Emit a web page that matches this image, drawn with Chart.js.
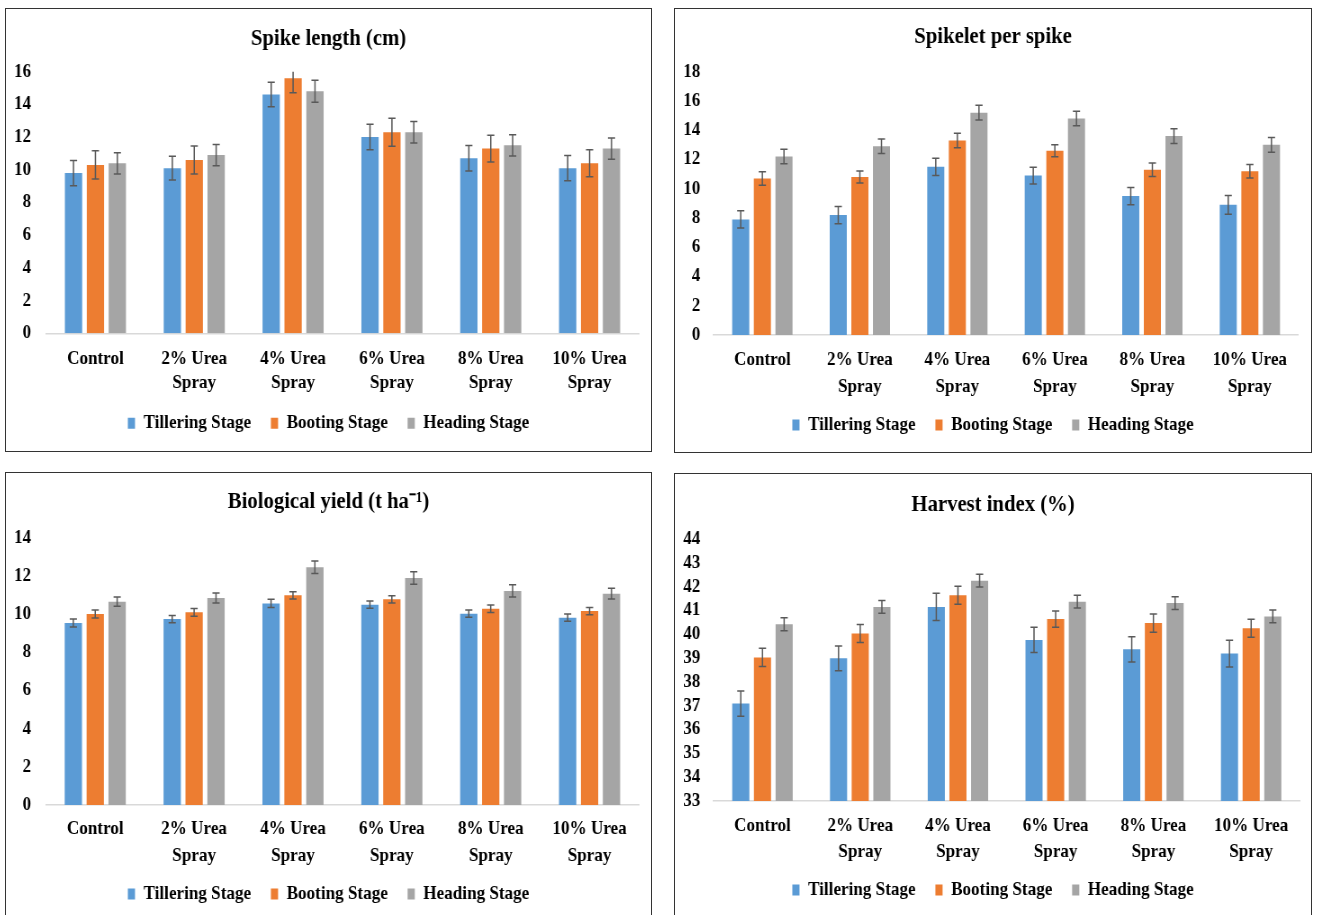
<!DOCTYPE html>
<html>
<head>
<meta charset="utf-8">
<script src="https://cdn.jsdelivr.net/npm/chart.js@4.4.1/dist/chart.umd.min.js"></script>
<style>
html, body { margin: 0; padding: 0; background: #fff; }
body { position: relative; width: 1317px; height: 915px; overflow: hidden; }
.frame { position: absolute; box-sizing: border-box; border: 1.5px solid #333; }
.squeeze { position: absolute; transform-origin: 0 0; }
</style>
</head>
<body>
<script>
const categories = [["Control"], ["2% Urea", "Spray"], ["4% Urea", "Spray"], ["6% Urea", "Spray"], ["8% Urea", "Spray"], ["10% Urea", "Spray"]];
const stages = ["Tillering Stage", "Booting Stage", "Heading Stage"];
const stageColors = ["#5B9BD5", "#ED7D31", "#A5A5A5"];

// Spike length (cm)
const spikeTillering = [9.8, 10.1, 14.6, 12.0, 10.7, 10.1];
const spikeBooting = [10.3, 10.6, 15.6, 12.3, 11.3, 10.4];
const spikeHeading = [10.4, 10.9, 14.8, 12.3, 11.5, 11.3];
const spikeTilleringErr = [0.77, 0.73, 0.75, 0.78, 0.78, 0.77];
const spikeBootingErr = [0.86, 0.86, 0.88, 0.86, 0.82, 0.82];
const spikeHeadingErr = [0.65, 0.65, 0.67, 0.66, 0.65, 0.65];

// Spikelet per spike
const spikeletTillering = [7.9, 8.2, 11.5, 10.9, 9.5, 8.9];
const spikeletBooting = [10.7, 10.8, 13.3, 12.6, 11.3, 11.2];
const spikeletHeading = [12.2, 12.9, 15.2, 14.8, 13.6, 13.0];
const spikeletTilleringErr = [0.59, 0.59, 0.59, 0.57, 0.59, 0.64];
const spikeletBootingErr = [0.46, 0.41, 0.5, 0.41, 0.46, 0.46];
const spikeletHeadingErr = [0.5, 0.5, 0.5, 0.5, 0.5, 0.5];

// Biological yield (t/ha)
const yieldTillering = [9.53, 9.74, 10.56, 10.49, 10.02, 9.81];
const yieldBooting = [10.0, 10.09, 10.98, 10.77, 10.28, 10.16];
const yieldHeading = [10.65, 10.84, 12.45, 11.89, 11.21, 11.07];
const yieldTilleringErr = [0.21, 0.19, 0.21, 0.19, 0.19, 0.19];
const yieldBootingErr = [0.21, 0.2, 0.19, 0.19, 0.2, 0.19];
const yieldHeadingErr = [0.24, 0.26, 0.33, 0.33, 0.32, 0.28];

// Harvest index (%)
const harvestTillering = [37.09, 38.99, 41.15, 39.76, 39.37, 39.19];
const harvestBooting = [39.03, 40.03, 41.64, 40.64, 40.47, 40.25];
const harvestHeading = [40.42, 41.15, 42.25, 41.37, 41.31, 40.75];
const harvestTilleringErr = [0.53, 0.52, 0.57, 0.53, 0.53, 0.56];
const harvestBootingErr = [0.38, 0.38, 0.38, 0.34, 0.38, 0.38];
const harvestHeadingErr = [0.27, 0.27, 0.27, 0.27, 0.27, 0.27];

const FONT = "'Liberation Serif', 'Times New Roman', serif";
const SQUEEZE = 0.9;

// whiskers with caps, clipped to the plot area
const errorBars = {
  id: 'errorBars',
  afterDatasetsDraw(chart) {
    const {ctx, chartArea, scales: {y}} = chart;
    ctx.save();
    ctx.beginPath();
    ctx.rect(chartArea.left, chartArea.top, chartArea.right - chartArea.left, chartArea.bottom - chartArea.top);
    ctx.clip();
    ctx.strokeStyle = '#595959';
    ctx.lineWidth = 1.5;
    chart.data.datasets.forEach((ds, i) => {
      chart.getDatasetMeta(i).data.forEach((bar, j) => {
        const hi = y.getPixelForValue(ds.data[j] + ds.errors[j]);
        const lo = y.getPixelForValue(ds.data[j] - ds.errors[j]);
        ctx.beginPath();
        ctx.moveTo(bar.x, hi); ctx.lineTo(bar.x, lo);
        ctx.moveTo(bar.x - 4, hi); ctx.lineTo(bar.x + 4, hi);
        ctx.moveTo(bar.x - 4, lo); ctx.lineTo(bar.x + 4, lo);
        ctx.stroke();
      });
    });
    ctx.restore();
  }
};

function buildPanel(p) {
  const [left, top, w, h] = p.box;

  const frame = document.createElement('div');
  frame.className = 'frame';
  Object.assign(frame.style, {left: left + 'px', top: top + 'px', width: w + 'px', height: h + 'px'});
  document.body.appendChild(frame);

  const wrap = document.createElement('div');
  wrap.className = 'squeeze';
  Object.assign(wrap.style, {left: left + 'px', top: top + 'px', transform: `scaleX(${SQUEEZE})`});
  const canvas = document.createElement('canvas');
  const W = Math.round(w / SQUEEZE);
  canvas.width = W;
  canvas.height = h;
  wrap.appendChild(canvas);
  document.body.appendChild(wrap);

  const titleSize = 23, titleLH = titleSize * 1.2;
  const legendPad = 22, itemH = 19;
  const legendTop = p.legendY - top - legendPad - itemH / 2;
  const legendH = itemH + legendPad + 10;
  const xAxisH = legendTop - (p.plotBottom - top);
  const chartLeft = (p.plotLeft - left) / SQUEEZE;
  const sidePad = W - (p.plotRight - left) / SQUEEZE;

  new Chart(canvas, {
    type: 'bar',
    data: {
      labels: categories,
      datasets: p.series.map((vals, i) => ({
        label: stages[i],
        data: vals,
        errors: p.errors[i],
        backgroundColor: stageColors[i],
        borderWidth: 0,
        base: p.min
      }))
    },
    options: {
      responsive: false,
      animation: false,
      devicePixelRatio: 1,
      layout: {padding: {top: 0, left: sidePad, right: sidePad, bottom: h - legendTop - legendH}},
      datasets: {bar: {categoryPercentage: 0.665, barPercentage: 0.79}},
      plugins: {
        title: {
          display: true,
          text: p.title,
          color: '#000',
          font: {family: FONT, size: titleSize, weight: 'bold', lineHeight: 1.2},
          padding: {top: p.titleY - top - titleLH / 2, bottom: p.plotTop - p.titleY - titleLH / 2}
        },
        legend: {
          position: 'bottom',
          labels: {boxWidth: 8, boxHeight: 11, padding: legendPad, color: '#000',
                   font: {family: FONT, size: 19, weight: 'bold'}}
        },
        tooltip: {enabled: false}
      },
      scales: {
        x: {
          grid: {display: false, drawTicks: false},
          border: {display: true, color: '#d9d9d9', width: 1.5},
          ticks: {color: '#000', padding: p.labelY - p.plotBottom - p.labelLH / 2, maxRotation: 0, autoSkip: false,
                  font: {family: FONT, size: 19, weight: 'bold', lineHeight: p.labelLH / 19}},
          afterFit: s => {
            s.height = xAxisH;
            // let the second label line run past the axis box
            s._computeLabelArea = () => undefined;
          }
        },
        y: {
          min: p.min, max: p.max,
          grid: {display: false, drawTicks: false},
          border: {display: false},
          ticks: {stepSize: p.step, autoSkip: false, color: '#000', padding: (p.plotLeft - p.tickRight) / SQUEEZE,
                  font: {family: FONT, size: 19, weight: 'bold'}},
          afterFit: s => {
            s.width = chartLeft - sidePad;
            s._computeLabelArea = () => undefined;
          }
        }
      }
    },
    plugins: [errorBars]
  });
}

buildPanel({
  title: 'Spike length (cm)',
  series: [spikeTillering, spikeBooting, spikeHeading],
  errors: [spikeTilleringErr, spikeBootingErr, spikeHeadingErr],
  min: 0, max: 16, step: 2,
  box: [5, 8, 647, 444],
  titleY: 39.3, plotTop: 71.7, plotBottom: 333.3, labelY: 359.3, labelLH: 23.7, legendY: 423.3,
  plotLeft: 46, plotRight: 639, tickRight: 31
});

buildPanel({
  title: 'Spikelet per spike',
  series: [spikeletTillering, spikeletBooting, spikeletHeading],
  errors: [spikeletTilleringErr, spikeletBootingErr, spikeletHeadingErr],
  min: 0, max: 18, step: 2,
  box: [674, 8, 638, 445],
  titleY: 37.5, plotTop: 71.7, plotBottom: 335, labelY: 360, labelLH: 26.7, legendY: 425,
  plotLeft: 713.6, plotRight: 1298.6, tickRight: 700.3
});

buildPanel({
  title: 'Biological yield (t ha\u207B\u00B9)',
  series: [yieldTillering, yieldBooting, yieldHeading],
  errors: [yieldTilleringErr, yieldBootingErr, yieldHeadingErr],
  min: 0, max: 14, step: 2,
  box: [5, 472, 647, 460],
  titleY: 502.5, plotTop: 537.7, plotBottom: 805, labelY: 829, labelLH: 26.7, legendY: 894,
  plotLeft: 45.8, plotRight: 639, tickRight: 31
});

buildPanel({
  title: 'Harvest index (%)',
  series: [harvestTillering, harvestBooting, harvestHeading],
  errors: [harvestTilleringErr, harvestBootingErr, harvestHeadingErr],
  min: 33, max: 44, step: 1,
  box: [674, 473, 638, 460],
  titleY: 505, plotTop: 539, plotBottom: 801, labelY: 825.7, labelLH: 26.7, legendY: 890,
  plotLeft: 713.6, plotRight: 1300, tickRight: 700.3
});
</script>
</body>
</html>
